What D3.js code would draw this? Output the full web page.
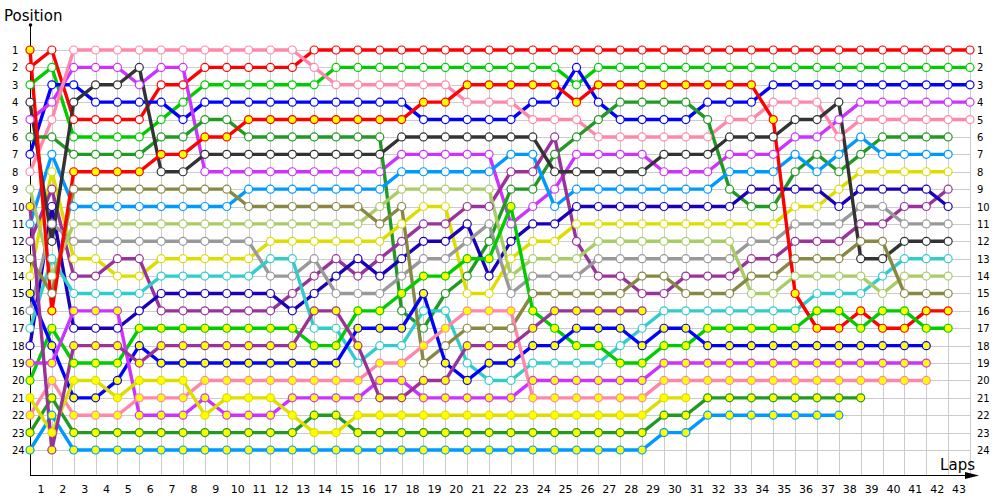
<!DOCTYPE html>
<html>
<head>
<meta charset="utf-8">
<script src="https://cdn.jsdelivr.net/npm/d3@7"></script>
<style>
  body { margin: 0; background: #fff; }
  text { font-family: "DejaVu Sans", sans-serif; fill: #000; }
</style>
</head>
<body>
<script>
const width = 1000;
const height = 500;

const lapCount = 43;
const positionCount = 24;
const lapTicks = d3.range(1, lapCount + 1);
const positionTicks = d3.range(1, positionCount + 1);

// colours cycle through classification order, drivers 16+ get a yellow marker
const palette = ['#ff0000', '#00cc00', '#0000ff', '#cc33ff', '#ff88aa',
  '#229922', '#0099ff', '#dddd00', '#993399', '#1a00bb',
  '#999999', '#333333', '#33cccc', '#aacc66', '#888844'];

// position at the end of each lap, index 0 = grid
const d01 = [2,1,5,5,5,5,3,3,2,2, 2,2,2,1,1,1,1,1,1,1, 1,1,1,1,1,1,1,1,1,1, 1,1,1,1,1,1,1,1,1,1, 1,1,1,1];
const d02 = [3,2,6,6,6,6,5,4,3,3, 3,3,3,3,2,2,2,2,2,2, 2,2,2,2,2,3,2,2,2,2, 2,2,2,2,2,2,2,2,2,2, 2,2,2,2];
const d03 = [7,3,3,4,4,4,4,5,4,4, 4,4,4,4,4,4,4,4,5,5, 5,5,5,4,4,2,4,5,5,5, 5,4,4,4,3,3,3,3,3,3, 3,3,3,3];
const d04 = [5,4,2,2,2,3,2,2,8,8, 8,8,8,8,8,8,8,7,7,7, 7,7,11,10,9,7,7,7,7,8, 8,8,7,7,7,6,6,5,4,4, 4,4,4,4];
const d05 = [8,5,1,1,1,1,1,1,1,1, 1,1,1,2,3,3,3,3,3,3, 4,4,4,5,5,5,6,6,6,6, 6,6,5,5,4,4,4,6,5,5, 5,5,5,5];
const d06 = [6,6,7,7,7,7,6,6,5,5, 6,6,6,6,6,6,6,16,17,15, 14,12,9,9,7,6,5,4,4,4, 4,5,9,10,10,8,7,8,7,6, 6,6,6];
const d07 = [11,7,10,10,10,10,10,10,10,10, 9,9,9,9,9,9,9,8,8,8, 8,8,7,7,10,9,9,9,9,9, 9,9,8,8,8,7,8,7,6,7, 7,7,7];
const d08 = [14,8,13,13,14,14,13,13,13,13, 13,12,12,12,12,12,12,11,10,10, 15,15,13,12,12,11,11,11,11,11, 11,11,11,11,11,10,10,9,8,8, 8,8,8];
const d09 = [12,9,14,14,13,13,16,16,16,16, 16,16,15,14,13,14,13,12,11,11, 10,10,8,8,6,12,14,14,15,15, 14,14,14,13,13,12,12,12,11,11, 10,10,9];
const d10 = [18,10,17,17,17,16,15,15,15,15, 15,15,16,15,14,13,14,13,12,12, 11,14,12,11,11,10,10,10,10,10, 10,10,10,9,9,9,9,10,9,9, 9,9,10];
const d11 = [16,11,12,12,12,12,12,12,12,12, 12,14,14,13,15,15,15,14,13,13, 12,11,15,14,14,14,13,13,13,13, 13,13,13,12,12,11,11,11,10,10, 11,11,11];
const d12 = [4,12,4,3,3,2,8,8,7,7, 7,7,7,7,7,7,7,6,6,6, 6,6,6,6,8,8,8,8,8,7, 7,7,6,6,6,5,5,4,13,13, 12,12,12];
const d13 = [17,13,15,15,15,15,14,14,14,14, 14,13,13,17,17,19,18,18,16,16, 19,20,20,19,19,19,19,18,17,16, 16,16,16,16,16,16,15,15,15,14, 13,13,13];
const d14 = [9,14,11,11,11,11,11,11,11,11, 11,11,11,11,11,11,10,9,9,9, 9,9,14,13,13,13,12,12,12,12, 12,12,12,15,15,14,14,14,14,15, 14,14,14];
const d15 = [13,15,9,9,9,9,9,9,9,9, 10,10,10,10,10,10,11,10,19,18, 17,17,17,15,15,15,15,15,14,14, 15,15,15,14,14,13,13,13,12,12, 15,15,15];
const d16 = [1,16,8,8,8,8,7,7,6,6, 5,5,5,5,5,5,5,5,4,4, 3,3,3,3,3,4,3,3,3,3, 3,3,3,3,5,15,17,17,16,17, 17,16,16];
const d17 = [20,17,19,19,19,17,17,17,17,17, 17,17,17,18,18,16,16,15,14,14, 13,13,10,16,17,18,18,19,19,18, 18,17,17,17,17,17,16,16,17,16, 16,17,17];
const d18 = [15,18,21,21,20,18,19,19,19,19, 19,19,19,19,19,17,17,17,15,19, 20,19,19,18,18,17,17,17,18,17, 17,18,18,18,18,18,18,18,18,18, 18,18];
const d19 = [19,19,16,16,16,22,22,22,21,22, 22,22,21,21,21,21,20,20,21,21, 21,21,21,20,20,20,20,20,20,19, 19,19,19,19,19,19,19,19,19,19, 19,19];
const d20 = [22,20,22,22,22,21,21,21,20,20, 20,20,20,20,20,20,19,19,18,17, 16,16,16,21,21,21,21,21,21,20, 20,20,20,20,20,20,20,20,20,20, 20,20];
const d21 = [23,21,23,23,23,23,23,23,23,23, 23,23,23,22,22,23,23,23,23,23, 23,23,23,23,23,23,23,23,23,22, 22,21,21,21,21,21,21,21,21];
const d22 = [24,22,24,24,24,24,24,24,24,24, 24,24,24,24,24,24,24,24,24,24, 24,24,24,24,24,24,24,24,24,23, 23,22,22,22,22,22,22,22];
const d23 = [21,23,20,20,21,20,20,20,22,21, 21,21,22,23,23,22,22,22,22,22, 22,22,22,22,22,22,22,22,22,21, 21];
const d24 = [10,24,18,18,18,19,18,18,18,18, 18,18,18,16,16,18,21,21,20,20, 18,18,18,17,16,16,16,16,16];

const drivers = [d01, d02, d03, d04, d05, d06, d07, d08, d09, d10, d11, d12,
  d13, d14, d15, d16, d17, d18, d19, d20, d21, d22, d23, d24];

const series = drivers.map((pos, i) => ({
  color: palette[i % palette.length],
  second: i >= palette.length,
  points: pos.map((p, lap) => ({ lap, p }))
}));

const x = d3.scaleLinear().domain([0, lapCount]).range([30, 970]);
const y = d3.scaleLinear().domain([1, positionCount]).range([50, 450]);

const svg = d3.select('body')
  .append('svg')
  .attr('width', width)
  .attr('height', height);

// grid
const grid = svg.append('g').attr('stroke', '#cccccc').attr('stroke-width', 1);
grid.selectAll('line.h')
  .data(positionTicks)
  .join('line')
  .attr('x1', x(0)).attr('x2', x(lapCount))
  .attr('y1', d => Math.round(y(d)) + 0.5).attr('y2', d => Math.round(y(d)) + 0.5);
grid.selectAll('line.v')
  .data(lapTicks)
  .join('line')
  .attr('x1', d => Math.round(x(d)) + 0.5).attr('x2', d => Math.round(x(d)) + 0.5)
  .attr('y1', y(1)).attr('y2', 475);

// axes
svg.append('line')
  .attr('x1', 30.5).attr('x2', 30.5).attr('y1', 25).attr('y2', 475.5)
  .attr('stroke', '#000');
svg.append('circle')
  .attr('cx', 30.5).attr('cy', 25).attr('r', 1.8).attr('fill', '#000');
svg.append('line')
  .attr('x1', 30).attr('x2', 968).attr('y1', 475.5).attr('y2', 475.5)
  .attr('stroke', '#000');
svg.append('path')
  .attr('d', 'M965,472L979,475.5L965,479Z')
  .attr('fill', '#000');

svg.append('text')
  .attr('x', 4).attr('y', 21)
  .style('font-size', '15px')
  .text('Position');
svg.append('text')
  .attr('x', 975).attr('y', 470)
  .attr('text-anchor', 'end')
  .style('font-size', '15px')
  .text('Laps');

// position labels, both sides
svg.append('g').selectAll('text')
  .data(positionTicks)
  .join('text')
  .attr('x', 12).attr('y', d => y(d) + 4)
  .style('font-size', '10px')
  .text(d => d);
svg.append('g').selectAll('text')
  .data(positionTicks)
  .join('text')
  .attr('x', 977).attr('y', d => y(d) + 4)
  .style('font-size', '10px')
  .text(d => d);

// lap labels sit between the lap lines
svg.append('g').selectAll('text')
  .data(lapTicks)
  .join('text')
  .attr('x', d => x(d - 0.5)).attr('y', 493)
  .attr('text-anchor', 'middle')
  .style('font-size', '11px')
  .text(d => d);

const line = d3.line()
  .x(d => x(d.lap))
  .y(d => y(d.p));

svg.append('g')
  .selectAll('path')
  .data(series)
  .join('path')
  .attr('d', d => line(d.points))
  .attr('fill', 'none')
  .attr('stroke', d => d.color)
  .attr('stroke-width', 3.4)
  .attr('stroke-linejoin', 'round');

svg.append('g')
  .selectAll('g')
  .data(series)
  .join('g')
  .each(function(s) {
    d3.select(this).selectAll('circle')
      .data(s.points)
      .join('circle')
      .attr('cx', d => x(d.lap))
      .attr('cy', d => y(d.p))
      .attr('r', 4)
      .attr('fill', s.second ? '#ffff00' : '#ffffff')
      .attr('stroke', s.color)
      .attr('stroke-width', 1.2);
  });
</script>
</body>
</html>
